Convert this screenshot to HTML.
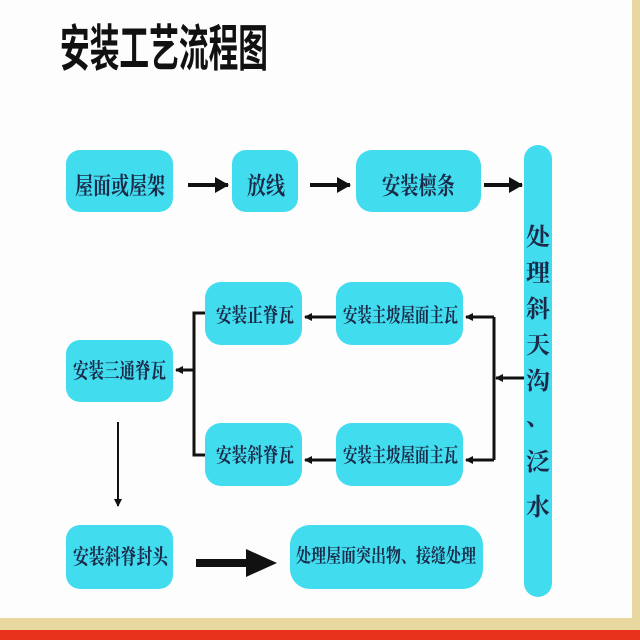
<!DOCTYPE html>
<html><head><meta charset="utf-8"><style>
html,body{margin:0;padding:0;background:#fff;width:640px;height:640px;overflow:hidden}
</style></head><body>
<svg width="640" height="640" viewBox="0 0 640 640" xmlns="http://www.w3.org/2000/svg">
<defs>
<marker id="a" markerWidth="8" markerHeight="8" refX="7" refY="4" orient="auto" markerUnits="userSpaceOnUse"><path d="M0,0 L8,4 L0,8 Z" fill="#111"/></marker>
<marker id="b" markerWidth="14" markerHeight="16" refX="13" refY="8" orient="auto" markerUnits="userSpaceOnUse"><path d="M0,0 L14,8 L0,16 Z" fill="#111"/></marker>
</defs>
<rect x="0" y="0" width="640" height="640" fill="#fdfdfd"/>
<rect x="632" y="0" width="8" height="630" fill="#e8d8a0"/>
<rect x="0" y="618" width="640" height="12" fill="#e8d8a0"/>
<rect x="0" y="630" width="640" height="10" fill="#e8321c"/>
<text x="60" y="66" font-family="Liberation Sans,'Noto Sans CJK SC',sans-serif" font-size="50" font-weight="bold" fill="#111" textLength="208" lengthAdjust="spacingAndGlyphs">安装工艺流程图</text>
<g fill="#42dcef">
<rect x="66" y="150" width="107" height="62" rx="14"/>
<rect x="232" y="150" width="66" height="62" rx="14"/>
<rect x="356" y="150" width="125" height="62" rx="16"/>
<rect x="524" y="145" width="28" height="452" rx="14"/>
<rect x="205" y="282" width="97" height="63" rx="16"/>
<rect x="336" y="282" width="127" height="63" rx="16"/>
<rect x="66" y="340" width="107" height="62" rx="14"/>
<rect x="205" y="423" width="97" height="63" rx="16"/>
<rect x="336" y="423" width="127" height="63" rx="16"/>
<rect x="66" y="525" width="107" height="64" rx="14"/>
<rect x="290" y="525" width="193" height="64" rx="20"/>
</g>
<g font-family="Liberation Serif,'Noto Serif CJK SC',serif" font-weight="bold" fill="#1a2a48" font-size="24">
<text x="75" y="194" textLength="90" lengthAdjust="spacingAndGlyphs">屋面或屋架</text>
<text x="247" y="194" textLength="38" lengthAdjust="spacingAndGlyphs">放线</text>
<text x="382" y="194" textLength="73" lengthAdjust="spacingAndGlyphs">安装檩条</text>
<text x="216" y="322" font-size="20" textLength="78" lengthAdjust="spacingAndGlyphs">安装正脊瓦</text>
<text x="343" y="322" font-size="20" textLength="115" lengthAdjust="spacingAndGlyphs">安装主坡屋面主瓦</text>
<text x="73" y="378" font-size="21" textLength="93" lengthAdjust="spacingAndGlyphs">安装三通脊瓦</text>
<text x="216" y="462" font-size="20" textLength="78" lengthAdjust="spacingAndGlyphs">安装斜脊瓦</text>
<text x="343" y="462" font-size="20" textLength="115" lengthAdjust="spacingAndGlyphs">安装主坡屋面主瓦</text>
<text x="73" y="564" font-size="21" textLength="95" lengthAdjust="spacingAndGlyphs">安装斜脊封头</text>
<text x="296" y="562" font-size="19" textLength="180" lengthAdjust="spacingAndGlyphs">处理屋面突出物、接缝处理</text>
<g font-size="24" text-anchor="middle">
<text x="538" y="245">处</text>
<text x="538" y="281">理</text>
<text x="538" y="317">斜</text>
<text x="538" y="353">天</text>
<text x="538" y="389">沟</text>
<text x="538" y="425">、</text>
<text x="538" y="470">泛</text>
<text x="538" y="515">水</text>
</g>
</g>
<g stroke="#111" fill="none">
<line x1="188" y1="185" x2="228" y2="185" stroke-width="4" marker-end="url(#b)"/>
<line x1="310" y1="185" x2="350" y2="185" stroke-width="4" marker-end="url(#b)"/>
<line x1="484" y1="185" x2="522" y2="185" stroke-width="4" marker-end="url(#b)"/>
<line x1="524" y1="378" x2="496" y2="378" stroke-width="3" marker-end="url(#a)"/>
<polyline points="494,317 494,460" stroke-width="3"/>
<line x1="494" y1="317" x2="466" y2="317" stroke-width="3" marker-end="url(#a)"/>
<line x1="494" y1="460" x2="466" y2="460" stroke-width="3" marker-end="url(#a)"/>
<line x1="336" y1="317" x2="305" y2="317" stroke-width="3" marker-end="url(#a)"/>
<line x1="336" y1="460" x2="305" y2="460" stroke-width="3" marker-end="url(#a)"/>
<polyline points="205,313 194,313 194,455 205,455" stroke-width="3"/>
<line x1="194" y1="370" x2="176" y2="370" stroke-width="3" marker-end="url(#a)"/>
<line x1="118" y1="422" x2="118" y2="506" stroke-width="2" marker-end="url(#a)"/>
</g>
<rect x="196" y="559" width="52" height="8" fill="#111"/>
<path d="M246,549 L277,563 L246,577 Z" fill="#111"/>
</svg>
</body></html>
